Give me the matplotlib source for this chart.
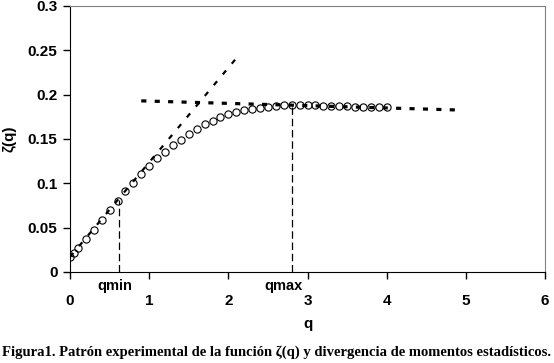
import matplotlib.pyplot as plt
import numpy as np

# experimental zeta(q) points
q_vals = [0, 0.05, 0.1, 0.2, 0.3, 0.4, 0.5, 0.6, 0.7, 0.8, 0.9, 1.0, 1.1, 1.2, 1.3,
          1.4, 1.5, 1.6, 1.7, 1.8, 1.9, 2.0, 2.1, 2.2, 2.3, 2.4, 2.5, 2.6, 2.7,
          2.8, 2.9, 3.0, 3.1, 3.2, 3.3, 3.4, 3.5, 3.6, 3.7, 3.8, 3.9, 4.0]
zeta_vals = [0.017, 0.021, 0.027, 0.037, 0.0475, 0.0585, 0.0695, 0.080, 0.091,
             0.1007, 0.1105, 0.1195, 0.128, 0.1357, 0.143, 0.149, 0.1556, 0.161,
             0.1665, 0.1706, 0.1744, 0.178, 0.181, 0.1825, 0.184, 0.1855, 0.1865,
             0.1875, 0.188, 0.188, 0.188, 0.188, 0.1878, 0.1875, 0.1873, 0.187,
             0.1868, 0.1865, 0.1863, 0.186, 0.186, 0.1858]

# fitted lines (end points)
lin_q = [0, 2.1]
lin_z = [0.017, 0.241]
flat_q = [0.9, 4.9]
flat_z = [0.193, 0.1827]

# qmin / qmax markers
qmin, qmin_z = 0.62, 0.081
qmax, qmax_z = 2.8, 0.188

x_ticks = [0, 1, 2, 3, 4, 5, 6]
y_ticks = [0, 0.05, 0.1, 0.15, 0.2, 0.25, 0.3]
y_labels = ['0', '0.05', '0.1', '0.15', '0.2', '0.25', '0.3']

plt.rcParams['font.family'] = ['Liberation Sans', 'DejaVu Sans']

fig = plt.figure(figsize=(5.54, 3.63), dpi=100)
ax = fig.add_axes([0.1264, 0.2507, 0.8574, 0.7328])

ax.plot(lin_q, lin_z, color='black', lw=1.6, dashes=(2.3, 4.0), zorder=2)
ax.plot(flat_q, flat_z, color='black', lw=2.3, dashes=(1.6, 2.6), zorder=2)
ax.plot([qmin, qmin], [0, qmin_z], color='black', lw=0.9, dashes=(6, 3))
ax.plot([qmax, qmax], [0, qmax_z], color='black', lw=0.9, dashes=(6, 3))
ax.plot(q_vals, zeta_vals, 'o', mfc='none', mec='black', ms=5.2, mew=0.8, zorder=3)

ax.set_xlim(0, 6)
ax.set_ylim(0, 0.3)
ax.set_xticks(x_ticks)
ax.set_xticklabels([str(t) for t in x_ticks], fontsize=11, fontweight='bold')
ax.set_yticks(y_ticks)
ax.set_yticklabels(y_labels, fontsize=11, fontweight='bold')
ax.tick_params(direction='out', length=5, width=1, pad=11)
ax.tick_params(axis='y', pad=4)

ax.spines['top'].set_color('#808080')
ax.spines['right'].set_color('#808080')
ax.spines['top'].set_linewidth(0.8)
ax.spines['right'].set_linewidth(0.8)

ax.set_xlabel('q', fontsize=11, fontweight='bold', labelpad=6)
ax.set_ylabel('ζ(q)', fontsize=11, fontweight='bold', labelpad=8)

ax.text(0.56, -0.008, 'qmin', ha='center', va='top', fontsize=10.5, fontweight='bold')
ax.text(2.7, -0.008, 'qmax', ha='center', va='top', fontsize=10.5, fontweight='bold')

fig.text(0.5, 0.03, 'Figura1. Patrón experimental de la función ζ(q) y divergencia de momentos estadísticos.',
         ha='center', va='center', fontsize=10.5, fontweight='bold',
         family=['Liberation Serif', 'DejaVu Serif'])

fig.savefig('out.png', dpi=100)
